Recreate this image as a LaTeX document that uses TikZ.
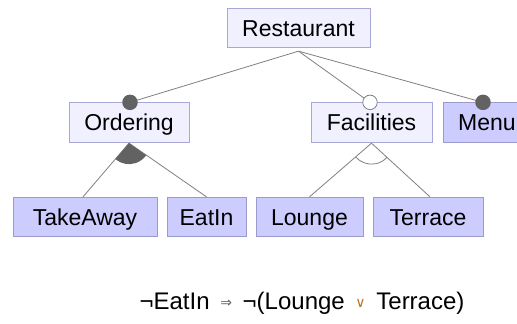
\documentclass[tikz,border=0pt]{standalone}
\usepackage{fontspec}
\setmainfont{Liberation Sans}
\newfontfamily\symfont{DejaVu Sans}
\usetikzlibrary{calc}
\definecolor{lightfill}{HTML}{F0F0FF}
\definecolor{lightdraw}{HTML}{A8A8D8}
\definecolor{darkfill}{HTML}{CCCCFF}
\definecolor{darkdraw}{HTML}{9A9ACC}
\definecolor{conn}{HTML}{808080}
\definecolor{dot}{HTML}{626262}
\definecolor{orop}{HTML}{B8742A}
\newcommand{\smallsym}[2]{\raisebox{1.5pt}{\symfont\fontsize{14}{16}\selectfont\color{#1}#2}}
\begin{document}
\begin{tikzpicture}[x=1pt,y=-1pt,
  feat/.style={rectangle, inner sep=0pt, minimum height=39.5pt, text height=16pt, text depth=0pt,
    font=\fontsize{23}{27}\selectfont, line width=0.8pt},
  lightbox/.style={feat, fill=lightfill, draw=lightdraw},
  darkbox/.style={feat, fill=darkfill, draw=darkdraw},
  link/.style={draw=conn, line width=0.8pt},
  mand/.style={circle, fill=dot, inner sep=0pt, minimum size=15.5pt},
  opt/.style={circle, fill=white, draw=conn, line width=0.8pt, inner sep=0pt, minimum size=14.5pt}]
\useasboundingbox (0,0) rectangle (517,324);
\clip (0,0) rectangle (517,324);
\fill[white] (0,0) rectangle (517,324);
% feature boxes
\node[lightbox, minimum width=143pt] (R) at (298.5,28) {Restaurant};
\node[lightbox, minimum width=120pt] (O) at (129,122.5) {Ordering};
\node[lightbox, minimum width=121pt] (F) at (371.5,122.5) {Facilities};
\node[darkbox, minimum width=88pt] (M) at (487,122.5) {Menu};
\node[darkbox, minimum width=144pt] (T) at (85,217) {TakeAway};
\node[darkbox, minimum width=79pt] (E) at (206.5,217) {EatIn};
\node[darkbox, minimum width=107pt] (L) at (309.5,217) {Lounge};
\node[darkbox, minimum width=110pt] (Te) at (428,217) {Terrace};
% connection points
\coordinate (rs) at ([yshift=-3pt]R.south);
\coordinate (oc) at ([xshift=1pt]O.north);
\coordinate (fc) at ([xshift=-1.5pt]F.north);
\coordinate (mc) at ([xshift=-4pt]M.north);
\coordinate (os) at ([yshift=-0.5pt]O.south);
\coordinate (fs) at ([yshift=-0.5pt]F.south);
% links from root
\draw[link] (rs) -- (oc);
\draw[link] (rs) -- (fc);
\draw[link] (rs) -- (mc);
\node[mand] (od) at (oc) {};
\node[opt] (fo) at (fc) {};
\node[mand] (md) at (mc) {};
% group links
\draw[link] (os) -- ([xshift=-2pt]T.north);
\draw[link] (os) -- (E.north);
\fill[dot] (os) -- ++(229.5:21pt) arc[start angle=229.5, end angle=324.7, radius=21pt] -- cycle;
\draw[link] (fs) -- (L.north);
\draw[link] (fs) -- ([xshift=2pt]Te.north);
\draw[link] ($(fs)+(221:21pt)$) arc[start angle=221, end angle=318, radius=21pt];
% constraint
\node[anchor=base, inner sep=0pt, font=\fontsize{24}{28}\selectfont] (C) at (302,309)
  {¬EatIn\, \smallsym{dot}{⇒}\, ¬(Lounge\, \smallsym{orop}{∨}\, Terrace)};
\end{tikzpicture}
\end{document}
